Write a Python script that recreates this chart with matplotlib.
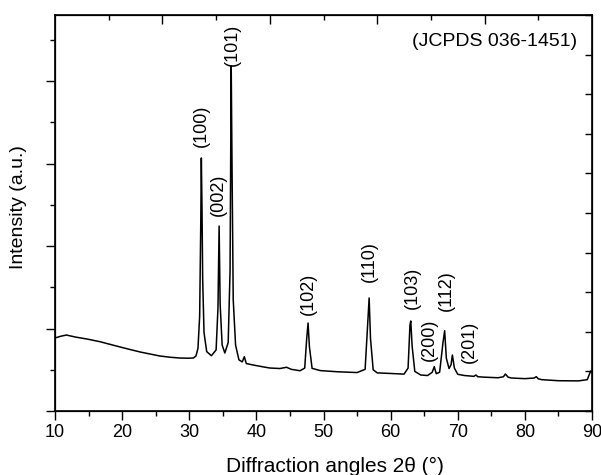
import matplotlib
matplotlib.use('Agg')
import matplotlib.pyplot as plt
from matplotlib.ticker import MultipleLocator, FixedLocator, NullFormatter

# XRD pattern (2-theta in degrees, intensity in arbitrary counts)
two_theta = [10.0, 10.8, 11.7, 13.0, 14.8, 16.7, 18.2, 19.7, 21.2, 22.7, 24.2, 25.6, 27.1, 28.6, 29.8, 30.6,
             31.0, 31.3, 31.55, 31.72, 31.8, 31.9, 32.0, 32.2, 32.6, 33.3,
             34.0, 34.28, 34.45, 34.6, 34.9, 35.3,
             35.8, 36.08, 36.25, 36.38, 36.55, 36.9, 37.4, 37.9, 38.2, 38.5,
             39.5, 41.0, 42.0, 43.5, 44.5, 45.2, 46.5, 47.2, 47.5, 47.7, 47.9, 48.3,
             49.5, 52.0, 55.0, 56.2, 56.6, 56.8, 57.0, 57.4, 58.0,
             60.0, 62.0, 62.6, 62.88, 63.0, 63.2, 63.6, 64.5, 65.5,
             66.2, 66.5, 66.8, 67.3, 67.8, 68.05, 68.3, 68.7, 69.0, 69.2, 69.5, 70.0,
             71.0, 72.4, 72.7, 73.0, 74.0, 76.0, 76.8, 77.1, 77.5, 78.0, 80.0, 81.4, 81.7, 82.0,
             82.5, 85.0, 88.0, 89.3, 89.8, 90.0]
intensity = [885, 905, 921, 897, 872, 840, 808, 776, 745, 715, 690, 667, 652, 642, 640, 642,
             667, 760, 1150, 2300, 3067, 2450, 1600, 950, 720, 670,
             740, 1250, 2242, 1300, 800, 703,
             830, 1700, 4182, 2900, 1350, 800, 620, 595, 658, 575,
             558, 535, 521, 515, 530, 505, 488, 520, 880, 1066, 780, 517,
             490, 476, 466, 505, 1080, 1370, 880, 500, 462,
             455, 447, 520, 1040, 1091, 790, 480, 436, 430,
             470, 537, 452, 470, 830, 973, 640, 515, 560, 679, 520, 445,
             430, 420, 436, 415, 410, 403, 415, 448, 410, 400, 392, 400, 416, 390,
             380, 367, 365, 380, 485, 470]

# Peak indexing labels
peak_labels = ['(100)', '(002)', '(101)', '(102)', '(110)', '(103)', '(200)', '(112)', '(201)']
label_x = [31.8, 34.3, 36.4, 47.7, 56.9, 63.3, 65.8, 68.35, 71.8]
label_y = [3454, 2618, 4436, 1418, 1806, 1491, 860, 1460, 842]
card_text = '(JCPDS 036-1451)'

plt.rcParams['font.family'] = ['Liberation Sans', 'DejaVu Sans']

fig = plt.figure(figsize=(6.01, 4.75), dpi=100)
ax = fig.add_axes([55/601, 1-411/475, (592-55)/601, (411-15)/475])
ax.plot(two_theta, intensity, color='black', lw=1.1)
ax.set_xlim(10, 90)
ax.set_ylim(0, 4800)
ax.xaxis.set_major_locator(MultipleLocator(10))
ax.xaxis.set_minor_locator(MultipleLocator(5))
ax.yaxis.set_major_locator(MultipleLocator(1000))
ax.yaxis.set_minor_locator(MultipleLocator(500))
ax.yaxis.set_major_formatter(NullFormatter())
ax.tick_params(which='both', direction='out', top=False, right=False, width=1.0)
ax.tick_params(which='major', length=6.5, labelsize=13, pad=3)
ax.tick_params(which='minor', length=3.3)
for s in ax.spines.values():
    s.set_linewidth(1.2)

# right axis: inward ticks
axr = ax.twinx()
axr.set_ylim(0, 10)
axr.yaxis.set_major_locator(MultipleLocator(1))
axr.yaxis.set_major_formatter(NullFormatter())
axr.tick_params(which='both', direction='in', length=5, width=1.0)

# top axis: inward ticks
axt = ax.twiny()
axt.set_xlim(10, 90)
axt.xaxis.set_major_locator(FixedLocator([26, 42, 58, 74]))
axt.xaxis.set_minor_locator(FixedLocator([18, 34, 50, 66, 82]))
axt.xaxis.set_major_formatter(NullFormatter())
axt.tick_params(which='major', direction='in', length=6.5, width=1.0)
axt.tick_params(which='minor', direction='in', length=3.3, width=1.0)

for lab, x, y in zip(peak_labels, label_x, label_y):
    ax.text(x, y, lab, rotation=90, ha='center', va='center', fontsize=13)

fig.text(577/601, 1-42/475, card_text, ha='right', va='center', fontsize=14)
fig.text(335/601, 1-466/475, 'Diffraction angles 2θ (°)', ha='center', va='center', fontsize=15)
fig.text(19/601, 1-207/475, 'Intensity (a.u.)', ha='center', va='center', rotation=90, fontsize=14)

fig.savefig('out.png', dpi=100)
